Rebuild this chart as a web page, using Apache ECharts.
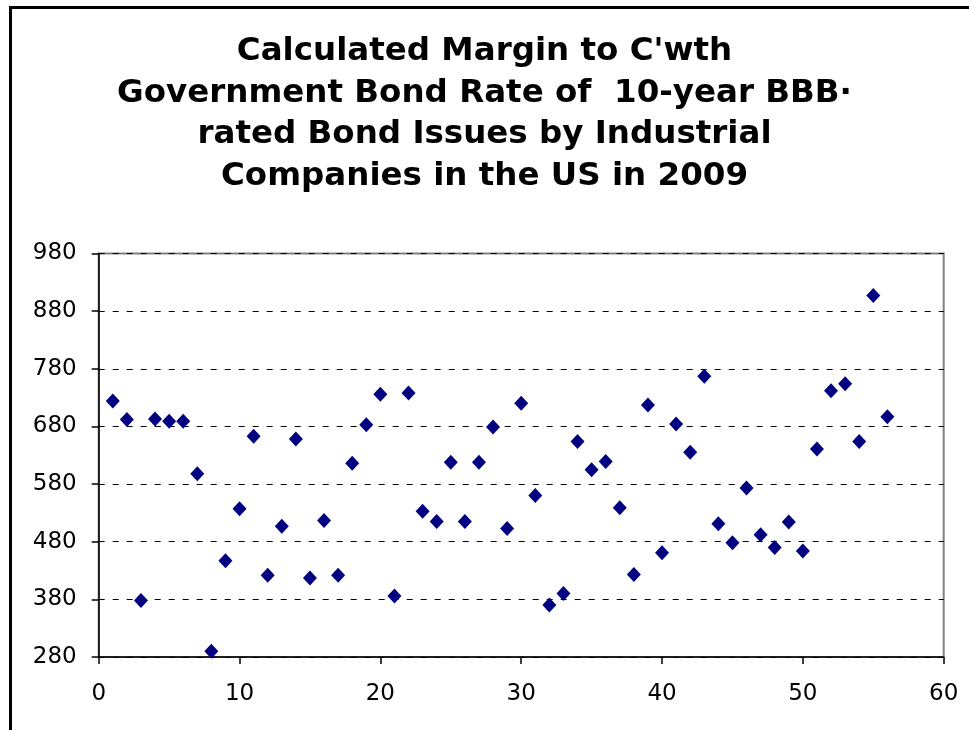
<!DOCTYPE html>
<html>
<head>
<meta charset="utf-8">
<script src="https://cdn.jsdelivr.net/npm/echarts@6/dist/echarts.min.js"></script>
<style>html,body{margin:0;padding:0;background:#fff;}#c{width:969px;height:730px;}</style>
</head>
<body>
<div id="c"></div>
<script>
var titleText = "Calculated Margin to C'wth\nGovernment Bond Rate of  10-year BBB\u00b7\nrated Bond Issues by Industrial\nCompanies in the US in 2009";
var xValues = [1,2,3,4,5,6,7,8,9,10,11,12,13,14,15,16,17,18,19,20,21,22,23,24,25,26,27,28,29,30,31,32,33,34,35,36,37,38,39,40,41,42,43,44,45,46,47,48,49,50,51,52,53,54,55,56];
var yValues = [724,692,378,693,689,689,598,290,447,537,663,422,507,658,417,517,422,616,683,736,386,738,533,515,618,515,618,679,503,720,560,370,390,654,605,619,539,423,717,461,684,635,767,511,478,573,492,470,514,464,641,742,754,654,907,697];
var yTicks = {min: 280, max: 980, interval: 100};
var xTicks = {min: 0, max: 60, interval: 10};

var points = xValues.map(function(x, i){ return [x, yValues[i]]; });

var chart = echarts.init(document.getElementById('c'), null, {renderer: 'canvas'});
chart.setOption({
  animation: false,
  backgroundColor: '#fff',
  title: {
    text: titleText,
    left: 'center',
    top: 26,
    textStyle: {fontFamily: 'DejaVu Sans', fontWeight: 'bold', fontSize: 32.5, lineHeight: 41.5, color: '#000'}
  },
  graphic: [{
    type: 'rect', left: 8, top: 5,
    shape: {width: 1000, height: 800},
    style: {fill: 'none', stroke: '#000', lineWidth: 3},
    silent: true, z: 100
  }],
  grid: {left: 98.7, right: 25.3, top: 253.5, bottom: 73, show: true, borderColor: '#808080', borderWidth: 2, backgroundColor: 'transparent'},
  xAxis: {
    type: 'value', min: xTicks.min, max: xTicks.max, interval: xTicks.interval,
    axisLine: {show: true, onZero: false, lineStyle: {color: '#000', width: 1.5}},
    axisTick: {show: true, length: 7, lineStyle: {color: '#000', width: 1.5}},
    axisLabel: {margin: 26, fontFamily: 'DejaVu Sans', fontSize: 23, color: '#000'},
    splitLine: {show: false}
  },
  yAxis: {
    type: 'value', min: yTicks.min, max: yTicks.max, interval: yTicks.interval,
    axisLine: {show: true, onZero: false, lineStyle: {color: '#000', width: 1.5}},
    axisTick: {show: true, length: 7, lineStyle: {color: '#000', width: 1.5}},
    axisLabel: {margin: 22, fontFamily: 'DejaVu Sans', fontSize: 23, color: '#000'},
    splitLine: {show: true, lineStyle: {color: '#000', width: 1, type: [6, 8]}}
  },
  series: [{
    type: 'scatter',
    data: points,
    symbol: 'diamond',
    symbolSize: [14, 15],
    itemStyle: {color: '#000080', opacity: 1}
  }]
});
</script>
</body>
</html>
